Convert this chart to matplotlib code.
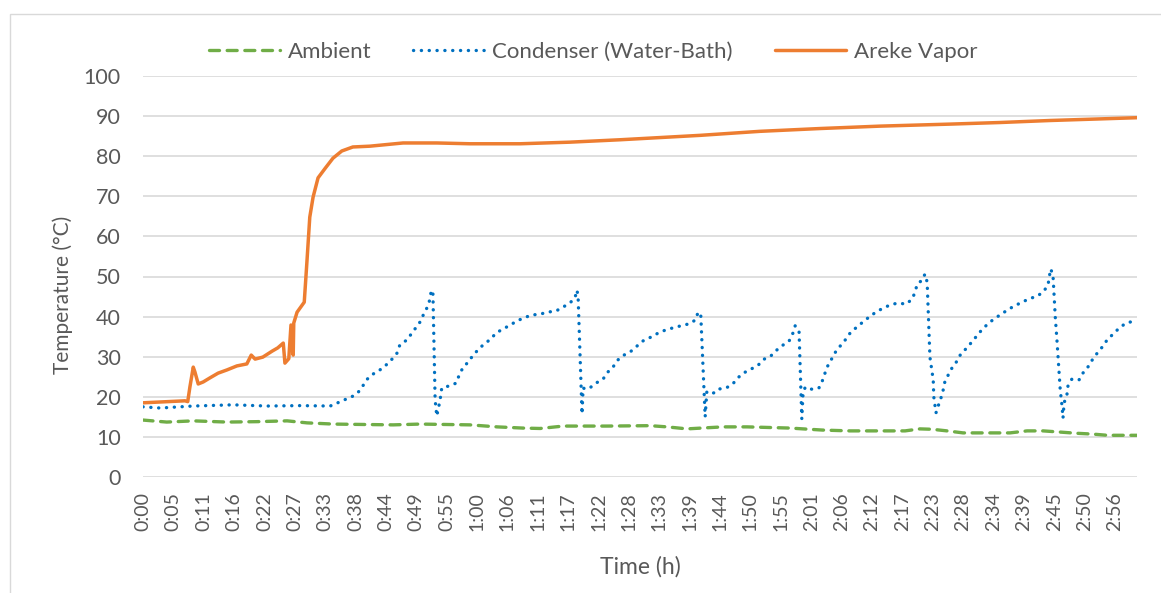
import matplotlib
matplotlib.use("Agg")
import matplotlib.pyplot as plt
from matplotlib.patches import Rectangle
import numpy as np

plt.rcParams['font.family'] = ['Lato', 'DejaVu Sans']

# ---- data (time in minutes, temperature in °C) ----
ambient_t = [0.0, 4.3, 9.1, 15.2, 20.6, 26.1, 29.7, 34.4, 45.3, 50.2, 59.2, 64.1, 68.8, 71.9,
             76.1, 84.0, 91.8, 94.9, 98.5, 105.0, 109.4, 117.2, 119.5, 123.1, 128.0, 138.0,
             140.7, 142.9, 145.6, 148.5, 157.0, 160.1, 163.0, 166.1, 169.1, 172.0, 174.6, 180.0]
ambient_v = [14.2, 13.7, 14.0, 13.7, 13.8, 14.0, 13.5, 13.2, 13.0, 13.2, 13.0, 12.5, 12.2, 12.1,
             12.7, 12.7, 12.8, 12.5, 12.0, 12.5, 12.5, 12.2, 12.0, 11.7, 11.5, 11.5,
             12.0, 11.9, 11.5, 11.0, 11.0, 11.5, 11.5, 11.2, 10.9, 10.7, 10.4, 10.4]

condenser_t = [0.0, 3.1, 9.1, 16.3, 22.5, 28.4, 33.9, 35.1, 36.4, 37.8, 38.9, 39.8, 40.6, 41.7,
               42.9, 44.0, 45.1, 46.0, 46.5, 47.8, 49.4, 50.3, 50.9, 51.6, 52.0, 52.2, 52.5,
               52.9, 53.2, 53.8, 54.1, 55.4, 56.7, 57.2, 57.9, 58.9, 59.8, 60.8, 61.8, 63.0,
               63.9, 65.2, 66.5, 67.7, 69.0, 70.4, 71.9, 73.2, 74.8, 76.1, 77.3, 78.2, 78.6,
               78.8, 79.5, 79.7, 80.2, 80.9, 82.0, 83.3, 84.2, 85.1, 86.0, 87.1, 88.4, 89.5,
               90.5, 92.0, 93.3, 94.7, 96.0, 97.4, 98.9, 100.1, 100.5, 101.0, 101.8, 102.1,
               102.7, 103.4, 104.1, 105.6, 106.8, 107.7, 108.7, 110.1, 111.4, 112.5, 113.7,
               114.8, 115.9, 117.0, 117.7, 118.1, 118.8, 119.3, 119.5, 119.9, 121.1, 122.4,
               123.0, 123.5, 124.0, 124.8, 125.5, 126.4, 127.3, 128.2, 129.3, 130.4, 131.5,
               132.7, 134.0, 135.3, 136.7, 138.2, 139.3, 139.8, 140.2, 141.1, 141.6, 142.0,
               142.5, 143.1, 143.2, 143.6, 144.0, 144.5, 144.9, 145.2, 145.8, 146.5, 147.4,
               148.1, 149.2, 150.1, 151.0, 151.9, 153.0, 154.1, 155.4, 156.5, 157.7, 159.2,
               160.4, 161.9, 163.0, 163.9, 164.1, 164.4, 164.8, 165.2, 165.5, 165.7, 165.9,
               166.1, 166.4, 166.6, 166.8, 167.3, 167.5, 168.2, 169.5, 170.2, 171.1, 171.9,
               172.8, 173.7, 174.6, 175.7, 176.6, 177.8, 179.3, 180.0]
condenser_v = [17.5, 17.2, 17.7, 18.0, 17.7, 17.8, 17.7, 18.4, 19.2, 20.0, 21.0, 22.7, 24.4, 25.7,
               26.7, 27.9, 29.4, 30.9, 32.9, 34.2, 37.2, 38.9, 40.9, 42.6, 44.6, 46.6, 45.9,
               19.2, 15.2, 19.2, 22.2, 22.7, 23.4, 25.2, 27.2, 28.7, 30.4, 31.9, 33.2, 34.4,
               35.9, 36.9, 37.9, 38.9, 39.7, 40.4, 40.6, 41.1, 41.4, 42.4, 43.4, 44.6, 46.6,
               44.6, 15.7, 22.2, 21.9, 22.2, 23.4, 24.4, 26.2, 27.4, 29.2, 30.4, 31.4, 32.7,
               33.9, 34.9, 35.9, 36.7, 37.2, 37.7, 38.2, 39.2, 41.1, 40.6, 15.0, 21.2,
               20.7, 21.0, 21.9, 22.2, 23.2, 24.7, 25.9, 26.9, 27.9, 29.4, 30.2,
               31.7, 32.9, 33.9, 35.9, 37.7, 36.4, 14.5, 20.2, 22.4, 21.9, 22.2,
               23.9, 25.9, 27.7, 29.7, 31.4, 32.9, 34.4, 36.2, 37.4, 38.7, 39.9,
               41.1, 42.1, 42.9, 43.4, 43.1, 44.4, 46.1, 48.1, 49.1, 50.6, 48.6,
               29.9, 24.2, 20.0, 16.0, 17.7, 19.7, 21.7, 23.7, 25.4, 27.2, 28.9,
               30.7, 32.2, 33.7, 35.2, 36.7, 38.2, 39.4, 40.6, 41.6, 42.6, 43.6,
               44.4, 45.1, 46.1, 47.9, 49.9, 51.9, 50.0, 39.9, 34.2, 29.9, 25.9,
               21.7, 18.0, 14.7, 18.5, 20.4, 22.7, 24.4, 24.2, 25.9, 27.4, 29.2,
               30.9, 32.4, 34.2, 35.7, 36.9, 38.2, 38.9, 39.2]

vapor_t = [0.0, 7.6, 8.1, 8.5, 9.1, 9.4, 10.0, 10.9, 12.1, 13.6, 15.2, 17.0, 18.8, 19.6, 20.3,
           21.7, 23.4, 24.4, 25.4, 25.7, 26.4, 26.8, 27.2, 27.3, 27.9, 29.2, 29.7, 30.2, 30.8,
           31.7, 33.0, 34.4, 36.0, 38.0, 41.1, 47.1, 53.2, 59.2, 68.3, 77.3, 86.4, 100.9,
           111.7, 122.6, 133.5, 146.1, 155.2, 164.2, 173.3, 180.0]
vapor_v = [18.5, 19.0, 18.8, 22.5, 27.4, 26.2, 23.2, 23.7, 24.7, 25.9, 26.7, 27.7, 28.2, 30.4, 29.4,
           29.9, 31.4, 32.2, 33.4, 28.4, 29.5, 37.9, 30.4, 38.4, 41.1, 43.6, 54.0, 64.8, 69.8,
           74.6, 77.0, 79.5, 81.3, 82.3, 82.5, 83.3, 83.3, 83.1, 83.1, 83.5, 84.1, 85.2,
           86.2, 86.9, 87.5, 88.0, 88.4, 88.9, 89.3, 89.6]

tick_labels = ['0:00', '0:05', '0:11', '0:16', '0:22', '0:27', '0:33', '0:38', '0:44', '0:49',
               '0:55', '1:00', '1:06', '1:11', '1:17', '1:22', '1:28', '1:33', '1:39', '1:44',
               '1:50', '1:55', '2:01', '2:06', '2:12', '2:17', '2:23', '2:28', '2:34', '2:39',
               '2:45', '2:50', '2:56']
tick_step = 5.5  # minutes between labels

# ---- figure ----
W, H = 1161, 593
fig = plt.figure(figsize=(W / 100, H / 100), dpi=100)
fig.patches.append(Rectangle((10 / W, -0.05), 1.2, 1 - 14 / H + 0.05, transform=fig.transFigure,
                             fill=False, edgecolor='#D9D9D9', linewidth=1.0))

ax = fig.add_axes([143 / W, 1 - 477 / H, (1137 - 143) / W, (477 - 76) / H])
txt = '#595959'

ax.plot(ambient_t, ambient_v, color='#70AD47', lw=2.4, linestyle=(0, (3.0, 2.3)),
        dash_capstyle='round', label='Ambient', zorder=3)
ax.plot(condenser_t, condenser_v, color='#0070C0', lw=2.4, linestyle=(0, (0.05, 2.3)),
        dash_capstyle='round', label='Condenser (Water-Bath)', zorder=3)
ax.plot(vapor_t, vapor_v, color='#ED7D31', lw=2.5, solid_capstyle='round',
        label='Areke Vapor', zorder=4)

ax.set_xlim(0, 180)
ax.set_ylim(0, 100)
ax.set_yticks(np.arange(0, 101, 10))
ax.set_xticks([i * tick_step for i in range(len(tick_labels))])
ax.set_xticklabels(tick_labels, rotation=90)
ax.tick_params(axis='both', length=0, labelcolor=txt)
ax.tick_params(axis='y', pad=16, labelsize=15.5)
ax.tick_params(axis='x', pad=11, labelsize=14)
ax.grid(axis='y', color='#D9D9D9', lw=1.2)
ax.set_axisbelow(True)
for s in ax.spines.values():
    s.set_visible(False)

ax.set_ylabel('Temperature (°C)', fontsize=15, color=txt)
ax.yaxis.set_label_coords(-0.0705, 0.454)
ax.set_xlabel('Time (h)', fontsize=16.5, color=txt)
ax.xaxis.set_label_coords(0.5, -0.197)

handles, labels = ax.get_legend_handles_labels()
fig.legend(handles, labels, loc='center', bbox_to_anchor=(593 / W, 1 - 52 / H), ncol=3,
           frameon=False, fontsize=16, labelcolor=txt, handlelength=3.2,
           columnspacing=1.9, handletextpad=0.35)

fig.savefig('out.png', dpi=100)
